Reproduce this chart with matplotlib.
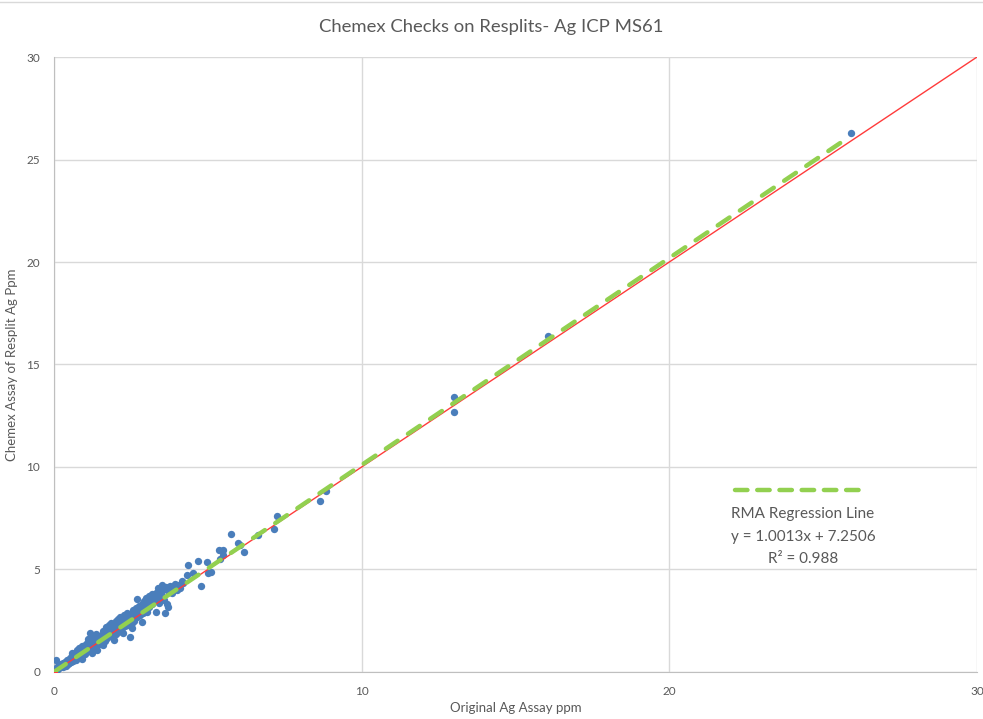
"""Chemex resplit check: original vs resplit Ag assays with 1:1 and RMA lines."""
import matplotlib
matplotlib.use("Agg")
import matplotlib.pyplot as plt

# ---------- Data
orig_ag = [
    0.02, 0.05, 0.08, 0.10, 0.12, 0.15, 0.18, 0.20, 0.22, 0.25,
    0.28, 0.30, 0.32, 0.35, 0.38, 0.40, 0.42, 0.45, 0.48, 0.50,
    0.52, 0.55, 0.58, 0.60, 0.62, 0.65, 0.68, 0.70, 0.72, 0.75,
    0.78, 0.80, 0.82, 0.85, 0.88, 0.90, 0.92, 0.95, 0.98, 1.00,
    1.02, 1.05, 1.08, 1.10, 1.12, 1.15, 1.17, 1.20, 1.22, 1.25,
    1.28, 1.30, 1.32, 1.35, 1.38, 1.40, 1.42, 1.45, 1.48, 1.50,
    1.52, 1.55, 1.58, 1.60, 1.62, 1.65, 1.68, 1.70, 1.72, 1.75,
    1.78, 1.80, 1.82, 1.85, 1.88, 1.90, 1.92, 1.95, 1.98, 2.00,
    2.02, 2.05, 2.08, 2.10, 2.12, 2.15, 2.18, 2.20, 2.22, 2.25,
    2.28, 2.30, 2.32, 2.35, 2.38, 2.40, 2.42, 2.45, 2.47, 2.50,
    2.52, 2.55, 2.58, 2.60, 2.62, 2.65, 2.69, 2.70, 2.72, 2.75,
    2.78, 2.80, 2.85, 2.88, 2.90, 2.92, 2.95, 2.98, 3.00, 3.02,
    3.05, 3.08, 3.10, 3.15, 3.18, 3.20, 3.25, 3.28, 3.30, 3.35,
    3.38, 3.40, 3.42, 3.45, 3.50, 3.52, 3.55, 3.58, 3.61, 3.65,
    3.68, 3.72, 3.75, 3.78, 3.80, 3.85, 3.90, 3.95, 4.00, 4.05,
    4.10, 4.15, 4.20,
    0.90, 1.25, 1.60, 1.95, 2.25, 2.55, 2.85, 3.30, 0.60, 1.40,
    4.31, 4.37, 4.51, 4.67, 4.78, 4.98, 5.02, 5.10, 5.35, 5.50,
    5.40, 5.49, 5.77, 5.99, 6.05, 6.17, 6.64, 7.16, 7.24, 8.65,
    8.84, 13.0, 13.0, 16.05, 25.9,
]
resplit_ag = [
    0.05, 0.58, 0.20, 0.12, 0.30, 0.18, 0.35, 0.25, 0.40, 0.30,
    0.22, 0.45, 0.35, 0.50, 0.30, 0.42, 0.60, 0.38, 0.55, 0.45,
    0.70, 0.50, 0.62, 0.85, 0.55, 0.75, 0.95, 0.60, 0.80, 1.05,
    0.72, 0.90, 1.15, 0.80, 1.00, 1.25, 0.85, 1.10, 0.95, 1.30,
    0.90, 1.15, 1.40, 1.00, 1.60, 1.25, 1.89, 1.10, 1.45, 1.30,
    1.70, 1.20, 1.55, 1.40, 1.85, 1.30, 1.60, 1.75, 1.45, 1.65,
    1.35, 1.80, 1.55, 2.00, 1.70, 1.50, 1.90, 2.20, 1.65, 1.85,
    2.30, 1.75, 2.05, 2.40, 1.90, 2.15, 1.70, 2.35, 2.00, 2.50,
    1.85, 2.20, 2.60, 2.05, 2.40, 2.70, 2.15, 2.50, 1.95, 2.35,
    2.80, 2.25, 2.60, 2.45, 2.90, 2.30, 2.70, 2.55, 1.72, 2.85,
    2.40, 2.65, 3.00, 2.50, 2.80, 3.10, 3.56, 2.70, 2.95, 3.20,
    2.80, 3.05, 3.30, 2.90, 3.15, 3.45, 3.00, 3.60, 3.25, 2.95,
    3.40, 3.70, 3.15, 3.55, 3.80, 3.30, 3.65, 3.45, 3.85, 3.60,
    4.10, 3.75, 3.35, 3.95, 4.24, 3.70, 4.00, 3.50, 2.86, 4.15,
    3.30, 3.19, 3.90, 4.20, 4.05, 3.85, 4.15, 4.30, 4.00, 4.25,
    4.10, 4.44, 4.35,
    0.65, 0.95, 1.30, 1.55, 1.90, 2.15, 2.45, 2.95, 0.95, 1.05,
    4.73, 5.22, 4.84, 5.41, 4.20, 5.37, 4.81, 4.90, 5.95, 5.71,
    5.50, 5.95, 6.75, 6.28, 6.20, 5.87, 6.68, 6.96, 7.62, 8.34,
    8.83, 13.4, 12.68, 16.4, 26.3,
]

# 1:1 reference and RMA regression line end points
one_to_one_x = [0, 30]
one_to_one_y = [0, 30]
rma_x = [0, 25.6]
rma_y = [0, 25.85]

rma_label = ["RMA Regression Line", "y = 1.0013x + 7.2506", "R\u00b2 = 0.988"]
ticks = [0, 5, 10, 15, 20, 25, 30]
x_ticks = [0, 10, 20, 30]

# ---------- Plot
plt.rcParams["font.family"] = ["Lato", "DejaVu Sans"]
grey_txt = "#595959"
grid_col = "#d9d9d9"
green = "#92d050"

fig = plt.figure(figsize=(9.83, 7.19), dpi=100)
ax = fig.add_axes([0.0549, 0.0654, 0.9390, 0.8553])

ax.scatter(orig_ag, resplit_ag, s=28, color="#4a7ebb", zorder=3, linewidths=0)
ax.plot(one_to_one_x, one_to_one_y, color="#ff3b3b", lw=1.0, zorder=4,
        marker="o", markevery=[0], markersize=4)
ax.plot(rma_x, rma_y, color=green, lw=3.2, zorder=5, linestyle=(0, (3.2, 2.8)),
        dash_capstyle="round")

ax.set_xlim(0, 30)
ax.set_ylim(0, 30)
ax.set_xticks(x_ticks)
ax.set_yticks(ticks)
ax.grid(True, color=grid_col, lw=1)
ax.set_axisbelow(True)
for side in ["top", "right"]:
    ax.spines[side].set_visible(False)
for side in ["left", "bottom"]:
    ax.spines[side].set_color("#bfbfbf")
ax.tick_params(length=0, labelsize=8.5, colors=grey_txt, pad=10)

fig.suptitle("Chemex Checks on Resplits- Ag ICP MS61", fontsize=13.3,
             color=grey_txt, x=0.5, y=0.962, va="center")
ax.set_xlabel("Original Ag Assay ppm", fontsize=9.5, color=grey_txt, labelpad=4)
ax.set_ylabel("Chemex Assay of Resplit Ag Ppm", fontsize=9.5, color=grey_txt,
              labelpad=6)

# trendline label box
ax.plot([0.738, 0.882], [0.296, 0.296], transform=ax.transAxes, color=green,
        lw=3.2, linestyle=(0, (2.8, 2.2)), dash_capstyle="round",
        clip_on=False, zorder=6)
for txt, yy in zip(rma_label, [0.257, 0.2195, 0.184]):
    ax.text(0.8115, yy, txt, transform=ax.transAxes, ha="center", va="center",
            fontsize=11, color=grey_txt)

# faint chart border at the top
fig.add_artist(plt.Line2D([0, 1], [0.997, 0.997], color=grid_col, lw=1))

fig.savefig("out.png", dpi=100)
